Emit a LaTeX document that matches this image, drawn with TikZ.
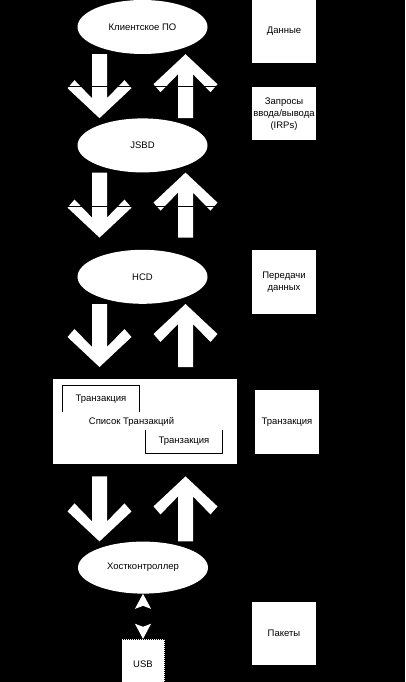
\documentclass[tikz,border=0pt]{standalone}
\usepackage{fontspec}
\setmainfont{Liberation Sans}
\usetikzlibrary{shapes.geometric, arrows.meta, positioning, calc}
\tikzset{
  bigdown/.style={to path={let \p1=(\tikztostart), \p2=(\tikztotarget) in
    (\x1-7.5pt,\y1) -- (\x1+7.5pt,\y1) -- (\x1+7.5pt,\y2+20pt) -- (\x1+25pt,\y2+38pt)
    -- (\x1+32pt,\y2+30pt) -- (\x1,\y2) -- (\x1-32pt,\y2+30pt) -- (\x1-25pt,\y2+38pt)
    -- (\x1-7.5pt,\y2+20pt) -- cycle}},
  bigup/.style={to path={let \p1=(\tikztostart), \p2=(\tikztotarget) in
    (\x1-7.5pt,\y1) -- (\x1+7.5pt,\y1) -- (\x1+7.5pt,\y2-20pt) -- (\x1+25pt,\y2-38pt)
    -- (\x1+32pt,\y2-30pt) -- (\x1,\y2) -- (\x1-32pt,\y2-30pt) -- (\x1-25pt,\y2-38pt)
    -- (\x1-7.5pt,\y2-20pt) -- cycle}}
}

\begin{document}
\begin{tikzpicture}[x=1pt, y=-1pt,
    every node/.style={font=\fontsize{9.5}{12}\selectfont, text=black, align=center},
    layer/.style={ellipse, fill=white, minimum width=130pt, minimum height=54pt, inner sep=0pt},
    tag/.style={rectangle, fill=white, minimum width=64pt, minimum height=63pt, inner sep=0pt},
    subbox/.style={rectangle, minimum width=76pt, inner sep=0pt},
    frame/.style={draw=black, line width=0.8pt},
    cutline/.style={draw=black, line width=1pt},
    smallarr/.style={draw=black, line width=1pt,
      {Stealth[length=15pt, width=16pt, inset=3pt, color=white]}-{Stealth[length=15pt, width=16pt, inset=3pt, color=white]}}
  ]
    \useasboundingbox (0,0) rectangle (405,682);
    \fill[black] (0,0) rectangle (405,682);

    % Software stack
    \node[layer] (cli) at (142.5,27) {Клиентское ПО};
    \node[layer, below=64pt of cli] (usbd) {JSBD};
    \node[layer, below=77pt of usbd] (hcd) {HCD};

    % Transaction list
    \node[rectangle, fill=white, minimum width=184pt, minimum height=85pt, inner sep=0pt,
      below=75pt of hcd, xshift=2.5pt] (tlist) {};
    \node (tlabel) at ([xshift=-13.5pt]tlist.center) {Список Транзакций};
    \node[subbox, minimum height=26pt] (tr1) at (101,399) {Транзакция};
    \node[subbox, minimum height=23pt] (tr2) at (184,441.5) {Транзакция};
    \draw[frame] (tr1.south west) |- (tr1.north east) -- (tr1.south east);
    \draw[frame] (tr2.north west) |- (tr2.south east) -- (tr2.north east);

    % Hardware
    \node[layer, minimum height=52pt, below=77pt of tlist, xshift=-2pt] (hc) {Хостконтроллер};
    \node[rectangle, fill=white, draw=black, dash pattern=on 1pt off 1pt, minimum width=43pt,
      minimum height=50pt, below=45pt of hc] (usb) {USB};

    % Data units
    \node[tag] (data) at (284,31.5) {Данные};
    \node[tag, minimum height=53pt, below=24pt of data] (irp) {Запросы\\ввода/вывода\\(IRPs)};
    \node[tag, minimum height=64pt, below=109pt of irp] (xfer) {Передачи\\данных};
    \node[tag, minimum height=64pt, below=76pt of xfer, xshift=3pt] (trn) {Транзакция};
    \node[tag, below=147pt of trn, xshift=-3pt] (pkt) {Пакеты};

    % Big arrows
    \fill[white] ([xshift=-43pt]cli.south) to[bigdown] ([xshift=-43pt]usbd.north);
    \fill[white] ([xshift=43pt]usbd.north) to[bigup] ([xshift=43pt]cli.south);
    \fill[white] ([xshift=-43pt]usbd.south) to[bigdown] ([xshift=-43pt, yshift=12pt]hcd.north);
    \fill[white] ([xshift=43pt, yshift=12pt]hcd.north) to[bigup] ([xshift=43pt]usbd.south);
    \fill[white] ([xshift=-43pt]hcd.south) to[bigdown] ([xshift=-45.5pt, yshift=12pt]tlist.north);
    \fill[white] ([xshift=40.5pt, yshift=12pt]tlist.north) to[bigup] ([xshift=43pt]hcd.south);
    \fill[white] ([xshift=-45.5pt, yshift=-12pt]tlist.south) to[bigdown] ([xshift=-43.5pt]hc.north);
    \fill[white] ([xshift=42.5pt]hc.north) to[bigup] ([xshift=40.5pt, yshift=-12pt]tlist.south);

    \draw[cutline] (62,87) -- (224,87);
    \draw[cutline] (62,206) -- (224,206);

    % Bus
    \draw[smallarr] (hc.south) -- (usb.north);
\end{tikzpicture}
\end{document}
